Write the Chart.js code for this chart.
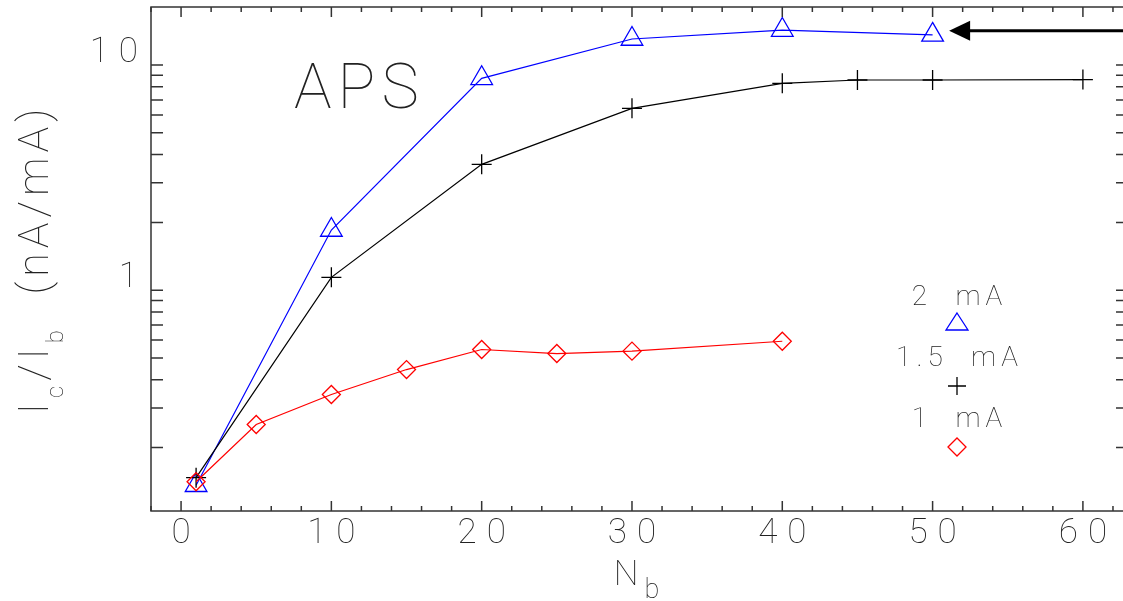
<!DOCTYPE html>
<html>
<head>
<meta charset="utf-8">
<script src="https://cdn.jsdelivr.net/npm/chart.js@4"></script>
<style>
  html, body { margin: 0; padding: 0; background: #fff; overflow: hidden; }
  #wrap { width: 1140px; height: 601px; }
</style>
</head>
<body>
<div id="wrap"><canvas id="grafico"></canvas></div>
<script>
// Datos: cociente Ic/Ib en función del número de bunches (Nb)
const nb2mA = [1, 10, 20, 30, 40, 50];
const ratio2mA = [0.136, 1.85, 8.73, 13.05, 14.3, 13.6];

const nb15mA = [1, 10, 20, 30, 40, 45, 50, 60];
const ratio15mA = [0.147, 1.14, 3.62, 6.42, 8.29, 8.58, 8.58, 8.62];

const nb1mA = [1, 5, 10, 15, 20, 25, 30, 40];
const ratio1mA = [0.141, 0.253, 0.344, 0.444, 0.545, 0.523, 0.536, 0.593];

const xTicks = [0, 10, 20, 30, 40, 50, 60];
const yTicks = [1, 10];
const legendLabels = ["2  mA", "1.5  mA", "1  mA"];

const FUENTE = "Roboto";
const PESO = 100;
const TINTA = "#222";

// Convierte dos arrays en puntos {x, y}
const puntos = (xs, ys) => xs.map((x, i) => ({ x: x, y: ys[i] }));

// Dibuja un texto con subíndices, centrado en (x, y)
function textoConSub(ctx, partes, x, y, fMain, fSub, bajada, ls) {
  ctx.letterSpacing = ls + "px";
  let total = 0;
  partes.forEach((p) => {
    ctx.font = p.sub ? fSub : fMain;
    total += ctx.measureText(p.t).width;
  });
  let cx = x - total / 2;
  ctx.textAlign = "left";
  ctx.textBaseline = "alphabetic";
  partes.forEach((p) => {
    ctx.font = p.sub ? fSub : fMain;
    ctx.fillText(p.t, cx, y + (p.sub ? bajada : 0));
    cx += ctx.measureText(p.t).width;
  });
}

// Marcadores de la leyenda
function triangulo(ctx, x, y) {
  ctx.beginPath();
  ctx.moveTo(x, y - 9);
  ctx.lineTo(x + 11, y + 8);
  ctx.lineTo(x - 11, y + 8);
  ctx.closePath();
  ctx.stroke();
}
function cruz(ctx, x, y) {
  ctx.beginPath();
  ctx.moveTo(x - 9, y); ctx.lineTo(x + 9, y);
  ctx.moveTo(x, y - 9); ctx.lineTo(x, y + 9);
  ctx.stroke();
}
function rombo(ctx, x, y) {
  ctx.beginPath();
  ctx.moveTo(x - 9, y); ctx.lineTo(x, y - 9);
  ctx.lineTo(x + 9, y); ctx.lineTo(x, y + 9);
  ctx.closePath();
  ctx.stroke();
}

const marcoPlugin = {
  id: "marco",
  beforeDraw(chart) {
    // espaciado ancho de las etiquetas de los ejes
    chart.ctx.letterSpacing = "10px";
  },
  afterDraw(chart) {
    const { ctx, chartArea: a, scales } = chart;
    const sx = scales.x;
    const sy = scales.y;
    ctx.save();

    // Marco y marcas hacia adentro
    ctx.strokeStyle = "#333";
    ctx.lineWidth = 1.5;
    ctx.strokeRect(a.left, a.top, a.right - a.left, a.bottom - a.top);
    ctx.beginPath();
    for (let v = -2; v <= 62; v += 2) {
      const px = sx.getPixelForValue(v);
      const largo = v % 10 === 0 ? 10 : 5;
      ctx.moveTo(px, a.bottom); ctx.lineTo(px, a.bottom - largo);
      ctx.moveTo(px, a.top); ctx.lineTo(px, a.top + largo);
    }
    [0.1, 1, 10].forEach((dec) => {
      for (let k = 1; k <= 9; k++) {
        const v = dec * k;
        if (v < sy.min || v > sy.max) continue;
        const py = sy.getPixelForValue(v);
        ctx.moveTo(a.left, py); ctx.lineTo(a.left + 12, py);
        ctx.moveTo(a.right, py); ctx.lineTo(a.right - 12, py);
      }
    });
    ctx.stroke();

    ctx.fillStyle = TINTA;

    // Título del eje Y (rotado)
    ctx.save();
    ctx.translate(48, (a.top + a.bottom) / 2);
    ctx.rotate(-Math.PI / 2);
    textoConSub(
      ctx,
      [
        { t: "I" }, { t: "c", sub: true }, { t: "/" },
        { t: "I" }, { t: "b", sub: true }, { t: "  (nA/mA)" },
      ],
      0, 0,
      `${PESO} 43px ${FUENTE}`, `${PESO} 24px ${FUENTE}`, 15, 5,
    );
    ctx.restore();

    // Título del eje X
    textoConSub(
      ctx,
      [{ t: "N" }, { t: "b", sub: true }],
      (a.left + a.right) / 2, 585,
      `${PESO} 35px ${FUENTE}`, `${PESO} 27px ${FUENTE}`, 13, 6,
    );

    // Rótulo APS
    ctx.letterSpacing = "6px";
    ctx.font = `${PESO} 63px ${FUENTE}`;
    ctx.textAlign = "left";
    ctx.fillText("APS", 294, 108);

    // Leyenda
    ctx.font = `${PESO} 28px ${FUENTE}`;
    ctx.letterSpacing = "5px";
    ctx.textAlign = "center";
    const lx = 957;
    const bases = [305, 366, 427];
    legendLabels.forEach((t, i) => ctx.fillText(t, lx + 2.5, bases[i]));
    ctx.lineWidth = 1.3;
    ctx.strokeStyle = "#0000ff";
    triangulo(ctx, lx, 322);
    ctx.strokeStyle = "#000";
    cruz(ctx, lx, 386);
    ctx.strokeStyle = "#ff0000";
    rombo(ctx, lx, 447);

    // Flecha que señala la serie de 2 mA
    const px = sx.getPixelForValue(51.1);
    const py = sy.getPixelForValue(14.2);
    ctx.strokeStyle = "#000";
    ctx.fillStyle = "#000";
    ctx.lineWidth = 3;
    ctx.beginPath();
    ctx.moveTo(px + 18, py);
    ctx.lineTo(chart.width, py);
    ctx.stroke();
    ctx.beginPath();
    ctx.moveTo(px, py);
    ctx.lineTo(px + 21, py - 10);
    ctx.lineTo(px + 21, py + 10);
    ctx.closePath();
    ctx.fill();

    ctx.restore();
  },
};

const serie = (label, xs, ys, color, estilo, radio) => ({
  label: label,
  data: puntos(xs, ys),
  showLine: true,
  borderColor: color,
  borderWidth: 1.2,
  pointStyle: estilo,
  pointRadius: radio,
  pointHoverRadius: radio,
  pointBorderColor: color,
  pointBorderWidth: 1.3,
  pointBackgroundColor: "rgba(0,0,0,0)",
  tension: 0,
});

new Chart(document.getElementById("grafico"), {
  type: "scatter",
  data: {
    datasets: [
      serie("1 mA", nb1mA, ratio1mA, "#ff0000", "rectRot", 9),
      serie("1.5 mA", nb15mA, ratio15mA, "#000000", "cross", 10),
      serie("2 mA", nb2mA, ratio2mA, "#0000ff", "triangle", 12.5),
    ],
  },
  options: {
    responsive: true,
    maintainAspectRatio: false,
    animation: false,
    events: [],
    layout: {
      autoPadding: false,
      padding: { top: 7, right: 12, left: 0, bottom: 0 },
    },
    plugins: {
      legend: { display: false },
      tooltip: { enabled: false },
    },
    scales: {
      x: {
        type: "linear",
        min: -2,
        max: 63,
        afterBuildTicks: (s) => { s.ticks = xTicks.map((v) => ({ value: v })); },
        afterFit: (s) => {
          s.height = 90;
          s.paddingLeft = 0;
          s.paddingRight = 0;
        },
        grid: { display: false, drawTicks: false },
        border: { display: false },
        ticks: {
          autoSkip: false,
          maxRotation: 0,
          padding: 2,
          labelOffset: 5,
          color: TINTA,
          font: { family: FUENTE, size: 35, weight: PESO },
          callback: (v) => String(v),
        },
      },
      y: {
        type: "logarithmic",
        min: 0.1045,
        max: 18.1,
        afterBuildTicks: (s) => { s.ticks = yTicks.map((v) => ({ value: v })); },
        afterFit: (s) => {
          s.width = 151;
          s.paddingTop = 0;
          s.paddingBottom = 0;
        },
        grid: { display: false, drawTicks: false },
        border: { display: false },
        ticks: {
          autoSkip: false,
          padding: 3,
          labelOffset: -12,
          color: TINTA,
          font: { family: FUENTE, size: 35, weight: PESO },
          callback: (v) => String(v),
        },
      },
    },
  },
  plugins: [marcoPlugin],
});
</script>
</body>
</html>
